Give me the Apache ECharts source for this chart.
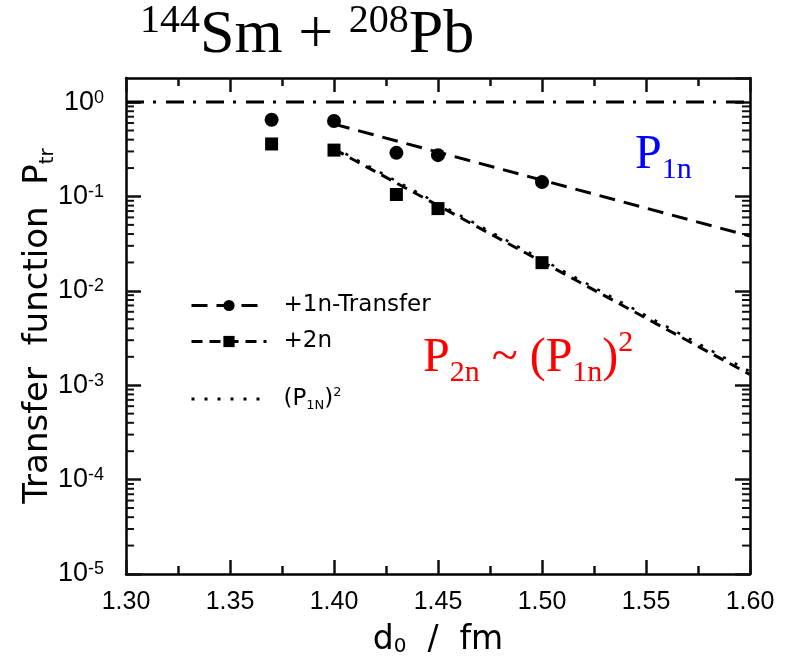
<!DOCTYPE html>
<html><head><meta charset="utf-8">
<script src="https://cdn.jsdelivr.net/npm/echarts@6/dist/echarts.min.js"></script>
<style>html,body{margin:0;padding:0;background:#fff}#c{width:790px;height:668px}</style>
</head><body><div id="c"></div>
<script>
// ---- data ----
const xMin = 1.30, xMax = 1.60, xStep = 0.05;
const yMin = 1e-5, yMax = 1.8;
const d0_1n = [1.37, 1.40, 1.43, 1.45, 1.50];
const p_1n  = [0.65, 0.63, 0.29, 0.274, 0.142];
const d0_2n = [1.37, 1.40, 1.43, 1.45, 1.50];
const p_2n  = [0.36, 0.31, 0.105, 0.0744, 0.0199];
const fit1n_x = [1.40, 1.60], fit1n_y = [0.584, 0.038];
const fit2n_x = [1.40, 1.60], fit2n_y = [0.317, 0.0013];
const sq1n_x  = [1.40, 1.60], sq1n_y  = [0.33, 0.0014];
const unity_x = [1.30, 1.60], unity_y = [1, 1];
const decades = [1e-5, 1e-4, 1e-3, 1e-2, 1e-1];
const minorMult = [2, 3, 4, 5, 6, 7, 8, 9];
const legendNames = ['+1n-Transfer', '+2n', '(P1N)^2'];

const pairs = (xs, ys) => xs.map((x, i) => [x, ys[i]]);
const minorTickData = [];
decades.forEach(d => minorMult.forEach(m => minorTickData.push([xMin, d * m])));

const NARROW = "'Liberation Sans',sans-serif";
const SANS = "'DejaVu Sans',sans-serif";
const SERIF = "'Liberation Serif','Times New Roman',serif";
const INK = '#111111';

function xAxisBase() {
  return {
    type: 'value', min: xMin, max: xMax, interval: xStep,
    axisLine: {show: true, lineStyle: {color: '#000', width: 2.5}},
    axisTick: {show: true, inside: true, length: 14, lineStyle: {color: INK, width: 2.5}},
    minorTick: {show: true, splitNumber: 2, length: 8, lineStyle: {color: INK, width: 2.5}},
    splitLine: {show: false}
  };
}
function yAxisBase() {
  return {
    type: 'log', min: yMin, max: yMax,
    axisLine: {show: true, lineStyle: {color: '#000', width: 2.5}},
    axisTick: {show: true, inside: true, length: 15, lineStyle: {color: INK, width: 2.5}},
    splitLine: {show: false}
  };
}

const chart = echarts.init(document.getElementById('c'));
chart.setOption({
  animation: false,
  backgroundColor: '#fff',
  grid: {left: 126, right: 40, top: 78, bottom: 94, outerBoundsMode: 'none'},
  xAxis: [
    Object.assign(xAxisBase(), {
      position: 'bottom',
      axisLabel: {show: true, margin: 16, color: '#000', fontFamily: NARROW, fontSize: 25,
        formatter: v => v.toFixed(2)},
      name: 'd{sub|0}  /  fm', nameLocation: 'middle', nameGap: 50, nameMoveOverlap: false,
      nameTextStyle: {color: '#000', fontFamily: SANS, fontSize: 33,
        rich: {sub: {fontFamily: SANS, fontSize: 20, verticalAlign: 'bottom', lineHeight: 14, color: '#000'}}}
    }),
    Object.assign(xAxisBase(), {position: 'top', axisLabel: {show: false}})
  ],
  yAxis: [
    Object.assign(yAxisBase(), {
      position: 'left',
      axisLabel: {show: true, margin: 22, color: '#000', showMaxLabel: false,
        formatter: v => {
          const e = Math.round(Math.log10(v));
          return '{b|10}{s|' + (e < 0 ? '-' + (-e) : e) + '}';
        },
        rich: {
          b: {fontFamily: NARROW, fontSize: 27, lineHeight: 27, color: '#000'},
          s: {fontFamily: NARROW, fontSize: 18, lineHeight: 17, verticalAlign: 'top', color: '#000'}
        }},
      name: 'Transfer  function  P{sub|tr}', nameLocation: 'middle', nameGap: 68, nameRotate: 90,
      nameMoveOverlap: false,
      nameTextStyle: {color: '#000', fontFamily: SANS, fontSize: 34, lineHeight: 40,
        rich: {sub: {fontFamily: SANS, fontSize: 20, lineHeight: 6, verticalAlign: 'bottom', color: '#000'}}}
    }),
    Object.assign(yAxisBase(), {position: 'right', axisLabel: {show: false}})
  ],
  legend: [
    {
      data: [legendNames[0], legendNames[1]], orient: 'vertical', left: 185, top: 289,
      itemWidth: 75, itemHeight: 14, itemGap: 13, selectedMode: false,
      lineStyle: {width: 3, type: 'inherit'},
      textStyle: {fontFamily: SANS, fontSize: 23, color: '#000', padding: [0, 0, 0, 12]}
    },
    {
      data: [{name: legendNames[2], itemStyle: {opacity: 0}}], orient: 'vertical', left: 185, top: 381,
      itemWidth: 75, itemHeight: 14, selectedMode: false,
      lineStyle: {width: 3, type: 'inherit'},
      formatter: () => '(P{sub|1N}){sup|2}',
      textStyle: {fontFamily: SANS, fontSize: 23, color: '#000', padding: [0, 0, 0, 12], lineHeight: 26,
        rich: {
          sub: {fontFamily: SANS, fontSize: 13, lineHeight: 16, verticalAlign: 'bottom', color: '#000'},
          sup: {fontFamily: SANS, fontSize: 13, lineHeight: 14, verticalAlign: 'top', color: '#000'}
        }}
    }
  ],
  series: [
    {name: legendNames[0], type: 'line', data: pairs(fit1n_x, fit1n_y), symbol: 'circle', showSymbol: false,
      lineStyle: {color: '#000', width: 3, type: [16, 9]}, itemStyle: {color: '#000', opacity: 1}},
    {name: legendNames[1], type: 'line', data: pairs(fit2n_x, fit2n_y), symbol: 'rect', showSymbol: false,
      lineStyle: {color: '#000', width: 3, type: [11, 7]}, itemStyle: {color: '#000', opacity: 1}},
    {name: legendNames[2], type: 'line', data: pairs(sq1n_x, sq1n_y), symbol: 'none',
      lineStyle: {color: '#000', width: 2.5, type: [3, 10]}, itemStyle: {color: '#000'}},
    {name: legendNames[0], type: 'scatter', data: pairs(d0_1n, p_1n), symbol: 'circle', symbolSize: 14,
      itemStyle: {color: '#000', opacity: 1}},
    {name: legendNames[1], type: 'scatter', data: pairs(d0_2n, p_2n), symbol: 'rect', symbolSize: 13,
      itemStyle: {color: '#000', opacity: 1}},
    {name: 'unity', type: 'line', data: pairs(unity_x, unity_y), symbol: 'none',
      lineStyle: {color: '#000', width: 3, type: [18, 9, 3, 10]}},
    {name: 'minorTicks', type: 'custom', data: minorTickData, clip: false,
      encode: {x: 0, y: 1},
      renderItem: (params, api) => {
        const v = api.value(1);
        const pL = api.coord([xMin, v]);
        const pR = api.coord([xMax, v]);
        return {type: 'group', children: [
          {type: 'line', shape: {x1: pL[0], y1: pL[1], x2: pL[0] + 8, y2: pL[1]}, style: {stroke: INK, lineWidth: 2}},
          {type: 'line', shape: {x1: pR[0], y1: pR[1], x2: pR[0] - 8, y2: pR[1]}, style: {stroke: INK, lineWidth: 2}}
        ]};
      }}
  ],
  graphic: [
    {type: 'text', left: 140, top: 1, style: {
      text: '{sup|144}{m|Sm + }{sup|208}{m|Pb}', fill: '#000',
      rich: {
        m: {fontFamily: SERIF, fontSize: 62, lineHeight: 70, fill: '#000'},
        sup: {fontFamily: SERIF, fontSize: 40, lineHeight: 41, verticalAlign: 'top', fill: '#000'}
      }}},
    {type: 'text', left: 635, top: 131, style: {
      text: '{m|P}{sub|1n}', fill: '#0000ff',
      rich: {
        m: {fontFamily: SERIF, fontSize: 48, lineHeight: 60, fill: '#0000ff'},
        sub: {fontFamily: SERIF, fontSize: 30, lineHeight: 24, verticalAlign: 'bottom', fill: '#0000ff'}
      }}},
    {type: 'text', left: 423, top: 328, style: {
      text: '{m|P}{sub|2n}{m| ~ (P}{sub|1n}{m|)}{sup|2}', fill: '#ff0000',
      rich: {
        m: {fontFamily: SERIF, fontSize: 48, lineHeight: 60, fill: '#ff0000'},
        sub: {fontFamily: SERIF, fontSize: 30, lineHeight: 24, verticalAlign: 'bottom', fill: '#ff0000'},
        sup: {fontFamily: SERIF, fontSize: 30, lineHeight: 46, verticalAlign: 'top', fill: '#ff0000'}
      }}}
  ]
});
</script>
</body></html>
